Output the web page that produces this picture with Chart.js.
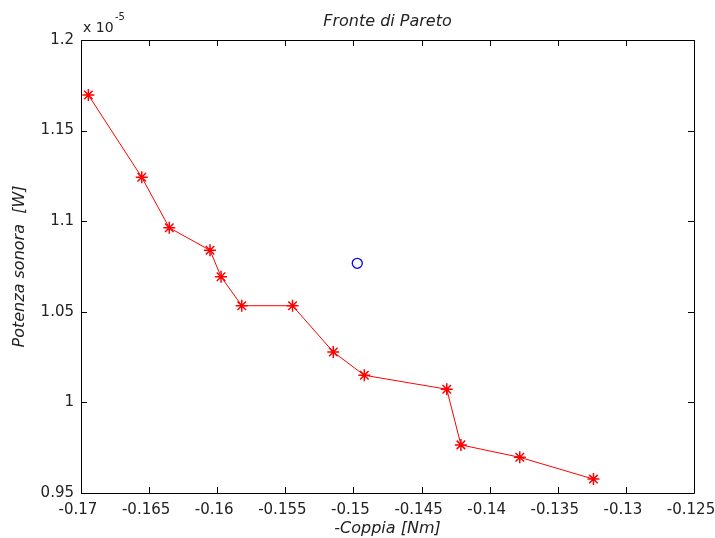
<!DOCTYPE html>
<html lang="en">
<head>
    <meta charset="UTF-8">
    <title>Fronte di Pareto</title>
    <script src="https://cdn.jsdelivr.net/npm/chart.js"></script>
    <style>
        body { margin: 0; background: #fff; }
    </style>
</head>
<body>
    <canvas id="paretoChart" width="715" height="538"></canvas>

    <script>
        // Pareto front: -torque [Nm] vs sound power [x 1e-5 W]
        const coppia = [-0.16946, -0.16554, -0.16352, -0.16053, -0.15972, -0.1582, -0.15447,
                        -0.15148, -0.1492, -0.14315, -0.14211, -0.13779, -0.13238];
        const potenza = [1.16965, 1.12423, 1.09641, 1.08394, 1.06937, 1.05336, 1.05336,
                         1.02781, 1.01496, 1.00728, 0.97655, 0.9697, 0.95767];
        // starting design
        const iniziale = { x: -0.14972, y: 1.07677 };

        const xTicks = [-0.17, -0.165, -0.16, -0.155, -0.15, -0.145, -0.14, -0.135, -0.13, -0.125];
        const yTicks = [0.95, 1, 1.05, 1.1, 1.15, 1.2];

        const fontFam = '"DejaVu Sans", Arial, sans-serif';

        // inward ticks on all four sides, box, title and axis labels
        const matlabAxes = {
            id: 'matlabAxes',
            afterDraw(chart) {
                const c = chart.ctx;
                const a = chart.chartArea;
                const xs = chart.scales.x, ys = chart.scales.y;
                c.save();
                c.strokeStyle = '#000';
                c.lineWidth = 1;
                c.beginPath();
                c.rect(Math.round(a.left) + 0.5, Math.round(a.top) + 0.5,
                       Math.round(a.right - a.left), Math.round(a.bottom - a.top));
                xTicks.forEach(v => {
                    const px = Math.round(xs.getPixelForValue(v)) + 0.5;
                    c.moveTo(px, a.bottom); c.lineTo(px, a.bottom - 6);
                    c.moveTo(px, a.top); c.lineTo(px, a.top + 6);
                });
                yTicks.forEach(v => {
                    const py = Math.round(ys.getPixelForValue(v)) + 0.5;
                    c.moveTo(a.left, py); c.lineTo(a.left + 6, py);
                    c.moveTo(a.right, py); c.lineTo(a.right - 6, py);
                });
                c.stroke();

                c.fillStyle = '#222';
                c.textAlign = 'center';
                c.textBaseline = 'middle';
                c.font = 'italic 16px ' + fontFam;
                c.fillText('Fronte di Pareto', (a.left + a.right) / 2, 22);
                c.fillText('-Coppia [Nm]', (a.left + a.right) / 2, 529);

                c.save();
                c.translate(20, (a.top + a.bottom) / 2);
                c.rotate(-Math.PI / 2);
                c.fillText('Potenza sonora  [W]', 0, 0);
                c.restore();

                c.textAlign = 'left';
                c.font = '14px ' + fontFam;
                c.fillText('x 10', a.left + 2, 28);
                c.font = '10px ' + fontFam;
                c.fillText('-5', a.left + 34, 17);
                c.restore();
            }
        };

        const ctx = document.getElementById('paretoChart').getContext('2d');
        const paretoChart = new Chart(ctx, {
            type: 'scatter',
            data: {
                datasets: [{
                    label: 'Pareto',
                    data: coppia.map((x, i) => ({ x: x, y: potenza[i] })),
                    showLine: true,
                    borderColor: '#ff0000',
                    borderWidth: 1,
                    pointStyle: 'star',
                    pointRadius: 6,
                    pointBorderColor: '#ff0000',
                    pointBorderWidth: 1.5,
                    pointBackgroundColor: '#ff0000'
                }, {
                    label: 'Iniziale',
                    data: [iniziale],
                    showLine: false,
                    pointStyle: 'circle',
                    pointRadius: 5,
                    pointBorderColor: '#0000ff',
                    pointBorderWidth: 1.3,
                    pointBackgroundColor: 'rgba(0,0,0,0)'
                }]
            },
            options: {
                responsive: false,
                animation: false,
                layout: { padding: { top: 40, right: 21, left: 0, bottom: 0 } },
                plugins: {
                    legend: { display: false },
                    tooltip: { enabled: false }
                },
                scales: {
                    x: {
                        type: 'linear',
                        min: -0.17,
                        max: -0.125,
                        afterFit(scale) {
                            scale.height = 45;
                            scale.paddingLeft = 0;
                            scale.paddingRight = 0;
                        },
                        afterBuildTicks(scale) { scale.ticks = xTicks.map(v => ({ value: v })); },
                        grid: { display: false, drawTicks: false },
                        border: { display: false },
                        ticks: {
                            padding: 8,
                            labelOffset: -3,
                            color: '#222',
                            font: { family: fontFam, size: 15 },
                            maxRotation: 0,
                            autoSkip: false,
                            callback: v => String(Number(v.toFixed(3)))
                        }
                    },
                    y: {
                        type: 'linear',
                        min: 0.95,
                        max: 1.2,
                        afterFit(scale) {
                            scale.width = 81;
                            scale.paddingTop = 0;
                            scale.paddingBottom = 0;
                        },
                        afterBuildTicks(scale) { scale.ticks = yTicks.map(v => ({ value: v })); },
                        grid: { display: false, drawTicks: false },
                        border: { display: false },
                        ticks: {
                            padding: 7,
                            color: '#222',
                            font: { family: fontFam, size: 15 },
                            autoSkip: false,
                            callback: v => String(Number(v.toFixed(3)))
                        }
                    }
                }
            },
            plugins: [matlabAxes]
        });
    </script>
</body>
</html>
